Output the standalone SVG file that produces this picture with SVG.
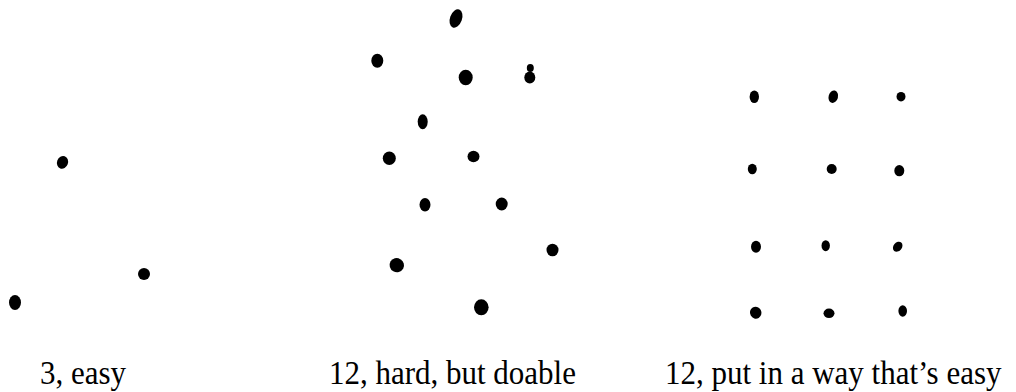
<svg xmlns="http://www.w3.org/2000/svg" width="1016" height="392" viewBox="0 0 1016 392">
<style>
.d{fill:#000}
.t{font-family:"Liberation Serif","Times New Roman",serif;font-size:31px;fill:#000}
</style>
<rect width="1016" height="392" fill="#fff"/>
<g id="easy">
<ellipse class="d" cx="62.5" cy="162.3" rx="5.5" ry="6.5" transform="rotate(20 62.5 162.3)"/>
<ellipse class="d" cx="144" cy="274" rx="6" ry="6"/>
<ellipse class="d" cx="15" cy="302.5" rx="6" ry="7.5"/>
<text class="t" x="40" y="384" transform="translate(0 384) scale(1 1.08) translate(0 -384)">3, easy</text>
</g>
<g id="hard">
<ellipse class="d" cx="456" cy="18.5" rx="6" ry="9.5" transform="rotate(20 456 18.5)"/>
<ellipse class="d" cx="377.3" cy="60.7" rx="6" ry="7"/>
<ellipse class="d" cx="465.7" cy="77.5" rx="7" ry="7.8"/>
<ellipse class="d" cx="530.3" cy="68" rx="3.5" ry="4"/>
<ellipse class="d" cx="529.8" cy="77.5" rx="5.5" ry="6"/>
<ellipse class="d" cx="422.7" cy="121.7" rx="5" ry="7.5"/>
<ellipse class="d" cx="389.3" cy="158.3" rx="6.5" ry="6.8"/>
<ellipse class="d" cx="473.5" cy="156.5" rx="6" ry="5.8"/>
<ellipse class="d" cx="425" cy="204.7" rx="5.5" ry="6.8"/>
<ellipse class="d" cx="501.7" cy="204" rx="6" ry="6.5"/>
<ellipse class="d" cx="552.5" cy="250" rx="6" ry="6.3"/>
<ellipse class="d" cx="396.8" cy="265.2" rx="7.3" ry="7" transform="rotate(30 396.8 265.2)"/>
<ellipse class="d" cx="481.3" cy="307.3" rx="7.3" ry="8"/>
<text class="t" x="329" y="384" transform="translate(0 384) scale(1 1.08) translate(0 -384)">12, hard, but doable</text>
</g>
<g id="grid">
<ellipse class="d" cx="754.3" cy="96.7" rx="4.7" ry="6.3"/>
<ellipse class="d" cx="833.3" cy="96.7" rx="4.7" ry="6.3" transform="rotate(15 833.3 96.7)"/>
<ellipse class="d" cx="901" cy="96.7" rx="4.5" ry="4.8"/>
<ellipse class="d" cx="752.3" cy="169" rx="4.5" ry="5.2"/>
<ellipse class="d" cx="831.7" cy="169" rx="5" ry="5"/>
<ellipse class="d" cx="899.3" cy="170.7" rx="5" ry="5.6"/>
<ellipse class="d" cx="756" cy="246.7" rx="5" ry="6"/>
<ellipse class="d" cx="825.7" cy="245.7" rx="4.2" ry="5.5"/>
<ellipse class="d" cx="897.7" cy="246.7" rx="4.2" ry="5.5" transform="rotate(40 897.7 246.7)"/>
<ellipse class="d" cx="755.7" cy="312.7" rx="5.7" ry="6" transform="rotate(-30 755.7 312.7)"/>
<ellipse class="d" cx="829" cy="313.3" rx="5.5" ry="4.8"/>
<ellipse class="d" cx="902.7" cy="311" rx="4.3" ry="5.8"/>
<text class="t" x="665" y="384" transform="translate(0 384) scale(1 1.08) translate(0 -384)">12, put in a way that’s easy</text>
</g>
</svg>
